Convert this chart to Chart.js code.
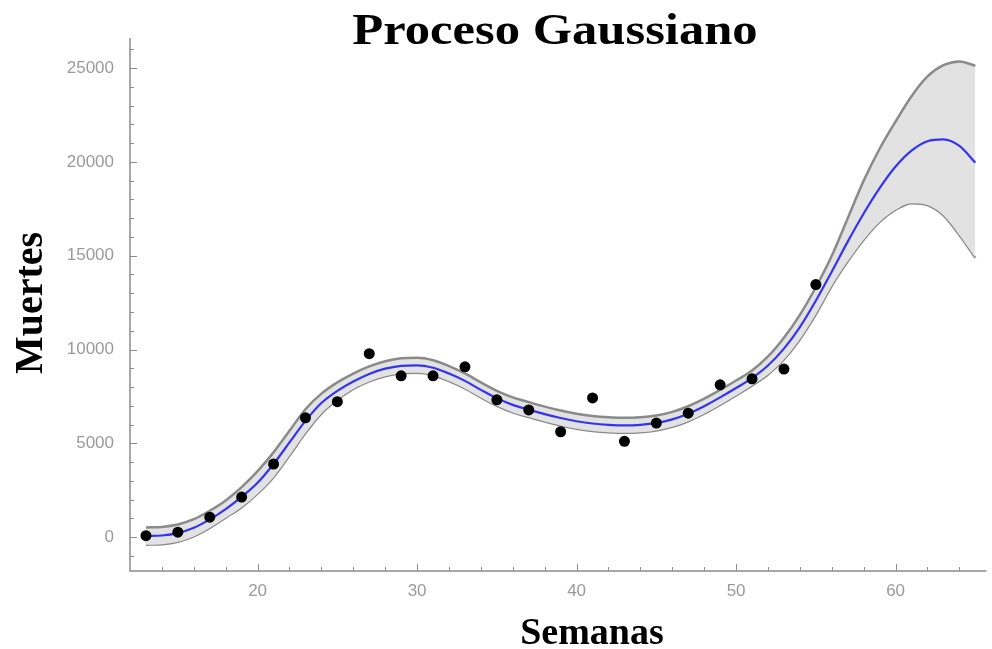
<!DOCTYPE html>
<html>
<head>
<meta charset="utf-8">
<script src="https://cdn.jsdelivr.net/npm/chart.js@4.4.0/dist/chart.umd.min.js"></script>
<style>
  html, body { margin: 0; padding: 0; background: #fff; }
  #wrap { width: 992px; height: 649px; }
</style>
</head>
<body>
<div id="wrap"><canvas id="chart" width="992" height="649"></canvas></div>
<script>
// semanas de la curva ajustada
const weeks = [13,14,15,16,17,18,19,20,21,22,23,24,25,26,27,28,29,30,31,32,33,34,35,36,37,38,39,40,
  41,42,43,44,45,46,47,48,49,50,51,52,53,54,55,56,57,58,59,60,61,62,63,64,65];

// media del proceso gaussiano
const meanDeaths = [60,90,220,500,950,1500,2150,2900,3900,5050,6200,7150,7800,8300,8700,8980,9130,9160,
  9030,8720,8330,7850,7400,7050,6800,6560,6350,6180,6060,5990,5960,5990,6090,6280,6580,6980,7450,7950,
  8480,9150,10050,11200,12600,14150,15750,17250,18600,19750,20600,21100,21200,20850,19960];

// banda de confianza (superior / inferior)
const upperBand = [520,550,680,960,1410,1960,2670,3520,4520,5670,6820,7650,8250,8720,9100,9380,9530,9560,
  9430,9120,8730,8250,7800,7450,7200,6960,6750,6580,6460,6390,6360,6390,6490,6680,6980,7380,7850,8350,
  8880,9630,10630,11850,13320,15000,17000,19000,20700,22150,23500,24550,25150,25350,25120];
const lowerBand = [-400,-370,-240,40,490,1040,1600,2320,3200,4350,5550,6590,7320,7900,8300,8580,8730,8760,
  8630,8320,7930,7450,7000,6650,6400,6160,5950,5780,5660,5590,5560,5590,5690,5880,6180,6580,7050,7550,
  8080,8670,9470,10550,11880,13400,14700,15850,16800,17450,17800,17700,17150,16100,14890];

// datos observados
const obsWeeks = [13,15,17,19,21,23,25,27,29,31,33,35,37,39,41,43,45,47,49,51,53,55];
const obsDeaths = [80,270,1070,2140,3900,6360,7220,9780,8600,8600,9080,7320,6780,5620,7420,5110,6080,
  6610,8120,8440,8960,13460];

// marcas de los ejes
const xTickLabels = [20,30,40,50,60];
const yTickLabels = [0,5000,10000,15000,20000,25000];

const toPoints = (xs, ys) => xs.map((v, i) => ({ x: v, y: ys[i] }));

// marcas hacia dentro y titulos
const axisDecor = {
  id: 'axisDecor',
  afterDraw(chart) {
    const { ctx, chartArea: a, scales } = chart;
    const x = scales.x, y = scales.y;
    ctx.save();
    ctx.strokeStyle = '#8c8c8c';
    ctx.lineWidth = 1.5;
    ctx.beginPath();
    ctx.moveTo(a.left, a.top);
    ctx.lineTo(a.left, a.bottom);
    ctx.lineTo(a.right, a.bottom);
    ctx.stroke();

    ctx.lineWidth = 1;
    ctx.beginPath();
    for (let w = 14; w <= 64; w += 2) {
      const px = Math.round(x.getPixelForValue(w)) + 0.5;
      const len = xTickLabels.includes(w) ? 7 : 4;
      ctx.moveTo(px, a.bottom);
      ctx.lineTo(px, a.bottom - len);
    }
    for (let v = -1000; v <= 26000; v += 1000) {
      const py = Math.round(y.getPixelForValue(v)) + 0.5;
      const len = yTickLabels.includes(v) ? 7 : 4;
      ctx.moveTo(a.left, py);
      ctx.lineTo(a.left + len, py);
    }
    ctx.stroke();

    ctx.fillStyle = '#000';
    ctx.textAlign = 'center';
    ctx.textBaseline = 'alphabetic';
    // titulo
    ctx.save();
    ctx.translate(555, 44);
    ctx.scale(1.15, 1);
    ctx.font = 'bold 44px "Liberation Serif", "Times New Roman", serif';
    ctx.fillText('Proceso Gaussiano', 0, 0);
    ctx.restore();
    // eje x
    ctx.font = 'bold 38px "Liberation Serif", "Times New Roman", serif';
    ctx.fillText('Semanas', 592, 644);
    // eje y
    ctx.save();
    ctx.translate(42, 303);
    ctx.rotate(-Math.PI / 2);
    ctx.font = 'bold 40px "Liberation Serif", "Times New Roman", serif';
    ctx.fillText('Muertes', 0, 0);
    ctx.restore();
    ctx.restore();
  }
};

const bandGray = '#8a8a8a';

new Chart(document.getElementById('chart'), {
  type: 'line',
  data: {
    datasets: [
      {
        label: 'Observado',
        type: 'scatter',
        data: toPoints(obsWeeks, obsDeaths),
        showLine: false,
        pointRadius: 5.5,
        pointBackgroundColor: '#000',
        pointBorderWidth: 0,
        order: 0
      },
      {
        label: 'Media',
        data: toPoints(weeks, meanDeaths),
        borderColor: '#3434f0',
        borderWidth: 2.2,
        pointRadius: 0,
        cubicInterpolationMode: 'monotone',
        fill: false,
        order: 1
      },
      {
        label: 'Superior',
        data: toPoints(weeks, upperBand),
        borderColor: bandGray,
        borderWidth: 2.5,
        pointRadius: 0,
        cubicInterpolationMode: 'monotone',
        fill: '+1',
        backgroundColor: '#e2e2e2',
        order: 2
      },
      {
        label: 'Inferior',
        data: toPoints(weeks, lowerBand),
        borderColor: bandGray,
        borderWidth: 2.5,
        pointRadius: 0,
        cubicInterpolationMode: 'monotone',
        fill: false,
        order: 3
      }
    ]
  },
  options: {
    responsive: false,
    animation: false,
    devicePixelRatio: 1,
    layout: { padding: { top: 38, right: 2, bottom: 0, left: 0 } },
    plugins: {
      legend: { display: false },
      tooltip: { enabled: false },
      title: { display: false }
    },
    scales: {
      x: {
        type: 'linear',
        min: 12,
        max: 65.7,
        grid: { display: false },
        border: { display: false },
        afterBuildTicks: s => { s.ticks = xTickLabels.map(v => ({ value: v })); },
        afterFit: s => { s.height = 78; },
        ticks: {
          color: '#9a9a9a',
          padding: 2,
          maxRotation: 0,
          callback: v => String(v),
          font: { family: '"Liberation Sans", Arial, sans-serif', size: 17 }
        }
      },
      y: {
        type: 'linear',
        min: -1800,
        max: 26600,
        grid: { display: false },
        border: { display: false },
        afterBuildTicks: s => { s.ticks = yTickLabels.map(v => ({ value: v })); },
        afterFit: s => { s.width = 130; },
        ticks: {
          color: '#9a9a9a',
          padding: 8,
          callback: v => String(v),
          font: { family: '"Liberation Sans", Arial, sans-serif', size: 17 }
        }
      }
    }
  },
  plugins: [axisDecor]
});
</script>
</body>
</html>
